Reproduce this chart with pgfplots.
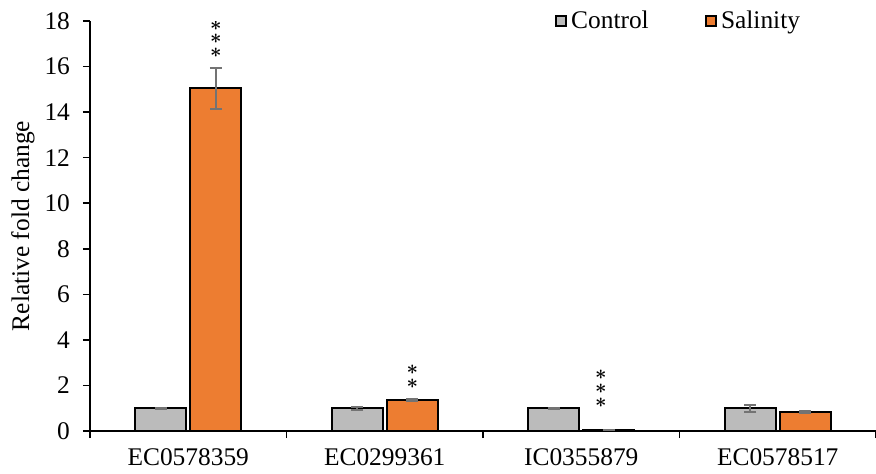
\documentclass[border=0pt]{standalone}
\usepackage{pgfplots}
\pgfplotsset{compat=1.18}
\usepackage{bm}
\usepackage{fontspec}
\setmainfont{Liberation Serif}
\definecolor{ctrl}{RGB}{187,187,187}
\definecolor{sal}{RGB}{237,125,49}
\definecolor{errc}{RGB}{115,115,115}
\begin{document}
\begin{tikzpicture}
\begin{axis}[
  scale only axis,
  width=393pt, height=205pt,
  xmin=-0.5, xmax=3.5,
  ymin=0, ymax=18,
  ytick={0,2,...,18},
  xtick={0,1,2,3},
  xticklabels={EC0578359,EC0299361,IC0355879,EC0578517},
  minor xtick={-0.5,0.5,1.5,2.5,3.5},
  major x tick style={draw=none},
  tick align=outside,
  tick pos=left,
  major tick length=3.5pt,
  minor tick length=3.5pt,
  axis x line*=bottom,
  axis y line*=left,
  axis line style={line width=0.9pt, -},
  tick style={line width=0.8pt, black},
  /pgf/number format/assume math mode=true,
  font=\fontsize{12.7}{14}\selectfont,
  ylabel={Relative fold change},
  ylabel style={at={(axis description cs:-0.0852,0.5)}, anchor=center},
  yticklabel style={xshift=-3pt},
  xticklabel style={yshift=-2pt},
  ybar, bar width=0.26,
  legend style={draw=none, fill=none, legend columns=2,
    at={(axis description cs:0.75,1.0)}, anchor=center,
    /tikz/every even column/.append style={column sep=26pt},
    font=\fontsize{12.7}{14}\selectfont},
  legend image code/.code={\draw[#1, line width=0.9pt] (0pt,-2.6pt) rectangle (5.2pt,2.6pt);},
  error bars/y dir=both, error bars/y explicit,
  error bars/error bar style={errc, line width=0.9pt},
  error bars/error mark options={rotate=90, mark size=3pt, errc, line width=0.9pt},
]
\addplot[fill=ctrl, draw=black, line width=0.9pt, bar shift=-0.14] coordinates {
  (0,1.0) +- (0,0.03)
  (1,1.0) +- (0,0.07)
  (2,1.0) +- (0,0.03)
  (3,1.0) +- (0,0.15)
};
\addlegendentry{Control}
\addplot[fill=sal, draw=black, line width=0.9pt, bar shift=0.14] coordinates {
  (0,15.05) +- (0,0.9)
  (1,1.36) +- (0,0.05)
  (2,0.04) +- (0,0.01)
  (3,0.83) +- (0,0.04)
};
\addlegendentry{Salinity}
\begin{scope}[every node/.style={inner sep=0pt, font=\fontsize{10}{11}\selectfont}]
\node at (axis cs:0.14,17.8) {$\bm{\ast}$};
\node at (axis cs:0.14,17.2) {$\bm{\ast}$};
\node at (axis cs:0.14,16.6) {$\bm{\ast}$};
\node at (axis cs:1.14,2.68) {$\bm{\ast}$};
\node at (axis cs:1.14,2.08) {$\bm{\ast}$};
\node at (axis cs:2.10,2.46) {$\bm{\ast}$};
\node at (axis cs:2.10,1.84) {$\bm{\ast}$};
\node at (axis cs:2.10,1.22) {$\bm{\ast}$};
\end{scope}
\coordinate (tl) at (rel axis cs:0,1);
\coordinate (br) at (rel axis cs:1,0);
\end{axis}
\pgfresetboundingbox
\path ([shift={(-45pt,10.5pt)}]tl) rectangle ([shift={(0pt,-21pt)}]br);
\end{tikzpicture}
\end{document}
